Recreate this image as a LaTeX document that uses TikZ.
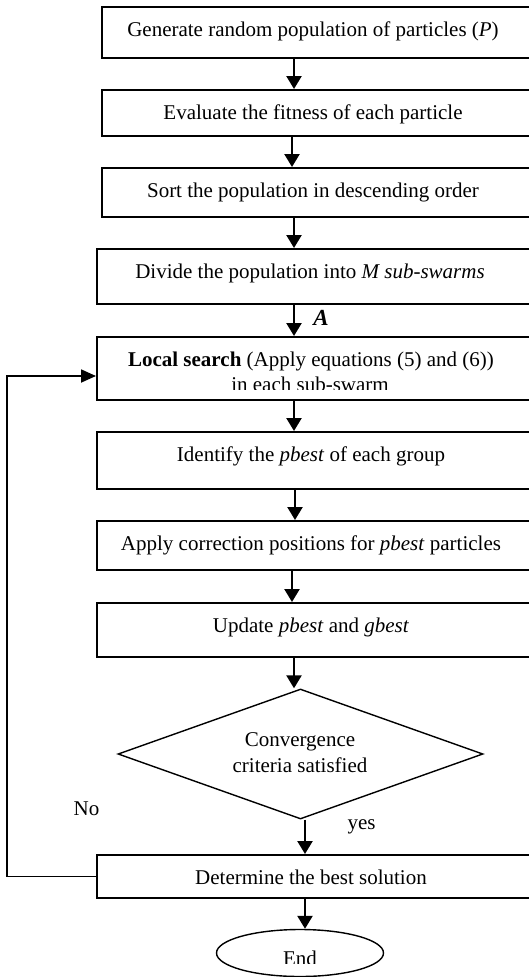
\documentclass[tikz,border=0pt]{standalone}
\usepackage{fontspec}
\setmainfont{Liberation Serif}
\usetikzlibrary{arrows.meta,shapes.geometric}
\begin{document}
\begin{tikzpicture}[x=1pt,y=-1pt,
  box/.style={draw,line width=1.8pt,rectangle,inner sep=0pt,anchor=north west,minimum width=#1},
  box/.default=439pt,
  txt/.style={font=\fontsize{21}{25}\selectfont,anchor=base,inner sep=0pt},
  arr/.style={line width=2.4pt,-{Triangle[length=13pt,width=15pt]}},
  loopline/.style={line width=1.8pt,-{Triangle[length=15pt,width=13pt]}},
  thin/.style={draw,line width=1.4pt,inner sep=0pt}]
\useasboundingbox (0,0) rectangle (528,977);
% boxes
\node[box,minimum height=51pt] (b1) at (101,6) {};
\node[box,minimum height=46pt] (b2) at (101,89) {};
\node[box,minimum height=49pt] (b3) at (101,167) {};
\node[box=444pt,minimum height=55pt] (b4) at (96,248) {};
\node[box=444pt,minimum height=63pt] (b5) at (96,336) {};
\node[box=444pt,minimum height=57pt] (b6) at (96,431) {};
\node[box=444pt,minimum height=49pt] (b7) at (96,520) {};
\node[box=444pt,minimum height=54pt] (b8) at (96,602) {};
\node[box=444pt,minimum height=43pt] (b9) at (96,854) {};
\node[thin,diamond,minimum width=365pt,minimum height=130pt] (d) at (300.5,754) {};
\node[thin,ellipse,minimum width=167pt,minimum height=47pt] (e) at (300,953) {};
% texts
\node[txt] (t1) at (313,36.7) {Generate random population of particles (\textit{P})};
\node[txt] (t2) at (313,119) {Evaluate the fitness of each particle};
\node[txt] (t3) at (313,197.3) {Sort the population in descending order};
\node[txt] (t4) at (310,278.3) {Divide the population into \textit{M sub-swarms}};
\node[txt,font=\fontsize{23}{26}\selectfont] (tA) at (321,325) {\textbf{\textit{A}}};
\node[txt] (t5a) at (311,366) {\textbf{Local search} (Apply equations (5) and (6))};
\begin{scope}
\clip (96,336) rectangle (540,389);
\node[txt] (t5b) at (310,391) {in each sub-swarm};
\end{scope}
\node[txt] (t6) at (311,461.7) {Identify the \textit{pbest} of each group};
\node[txt] (t7) at (311,550) {Apply correction positions for \textit{pbest} particles};
\node[txt] (t8) at (311,632.7) {Update \textit{pbest} and \textit{gbest}};
\node[txt] (td1) at (300,746.7) {Convergence};
\node[txt] (td2) at (300,772.3) {criteria satisfied};
\node[txt] (tno) at (86.5,815.7) {No};
\node[txt] (tyes) at (361.5,829) {yes};
\node[txt] (t9) at (311,884.3) {Determine the best solution};
\begin{scope}
\clip (200,920) rectangle (400,963.5);
\node[txt] (tend) at (300,965) {End};
\end{scope}
% columns
\coordinate (c294) at (294,0);
\coordinate (c292) at (292,0);
\coordinate (c295) at (295,0);
\coordinate (c305) at (305,0);
\coordinate (loopTop) at (7,376);
% arrows
\draw[arr] (b1.south -| c294) -- (b2.north -| c294);
\draw[arr] (b2.south -| c292) -- (b3.north -| c292);
\draw[arr] (b3.south -| c294) -- (b4.north -| c294);
\draw[arr] (b4.south -| c294) -- (b5.north -| c294);
\draw[arr] (b5.south -| c294) -- (b6.north -| c294);
\draw[arr] (b6.south -| c295) -- (b7.north -| c295);
\draw[arr] (b7.south -| c292) -- (b8.north -| c292);
\draw[arr] (b8.south -| c294) -- (d.north -| c294);
\draw[arr] (d.south -| c305) -- (b9.north -| c305);
\draw[arr] (b9.south -| c305) -- (e.north -| c305);
\draw[loopline] (b9.west) -| (loopTop) -- (loopTop -| b5.west);
\end{tikzpicture}
\end{document}
